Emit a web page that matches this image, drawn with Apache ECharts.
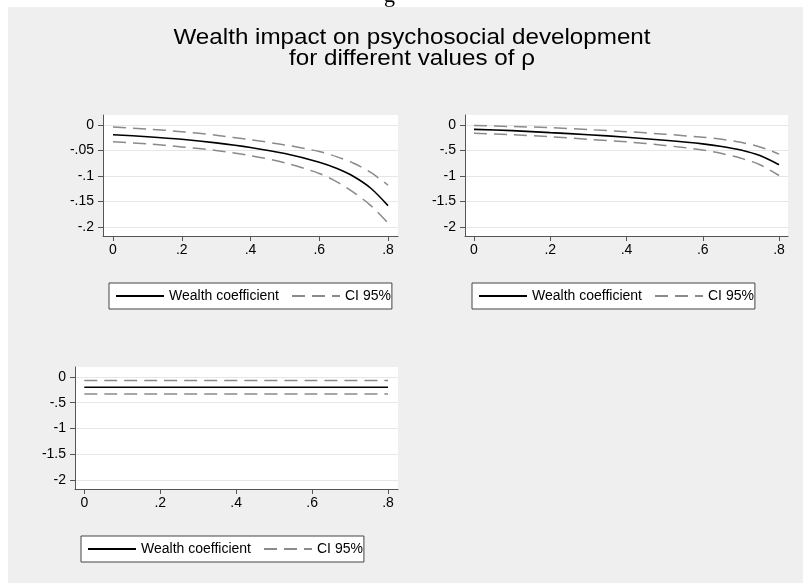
<!DOCTYPE html>
<html>
<head>
<meta charset="utf-8">
<script src="https://cdn.jsdelivr.net/npm/echarts@6/dist/echarts.min.js"></script>
<style>
	html, body { margin: 0; padding: 0; background: #fff; }
	#main { width: 803px; height: 583px; }
</style>
</head>
<body>
<div id="main"></div>
<script>
// 数据
var rhoValues = [0, 0.1, 0.2, 0.3, 0.4, 0.5, 0.6, 0.65, 0.7, 0.75, 0.8];

// 左上
var coefA = [-0.019, -0.023, -0.028, -0.035, -0.044, -0.056, -0.073, -0.085, -0.101, -0.124, -0.158];
var upperA = [-0.004, -0.008, -0.013, -0.020, -0.029, -0.039, -0.052, -0.062, -0.075, -0.093, -0.118];
var lowerA = [-0.033, -0.037, -0.043, -0.050, -0.060, -0.074, -0.095, -0.111, -0.132, -0.158, -0.192];

// 右上
var coefB = [-0.085, -0.11, -0.15, -0.19, -0.24, -0.30, -0.37, -0.42, -0.49, -0.60, -0.78];
var upperB = [-0.01, -0.03, -0.05, -0.09, -0.13, -0.18, -0.24, -0.28, -0.34, -0.43, -0.57];
var lowerB = [-0.16, -0.19, -0.23, -0.28, -0.33, -0.40, -0.49, -0.56, -0.65, -0.78, -0.99];

// 左下（水平线）
var rhoFlat = [0, 0.8];
var coefC = [-0.2, -0.2];
var upperC = [-0.07, -0.07];
var lowerC = [-0.33, -0.33];

// 刻度
var xTicks = [0, 0.2, 0.4, 0.6, 0.8];
var xTickLabels = ['0', '.2', '.4', '.6', '.8'];
var yTicksA = [0, -0.05, -0.1, -0.15, -0.2];
var yTickLabelsA = ['0', '-.05', '-.1', '-.15', '-.2'];
var yTicksB = [0, -0.5, -1, -1.5, -2];
var yTickLabelsB = ['0', '-.5', '-1', '-1.5', '-2'];

var legendNames = ['Wealth coefficient', 'CI 95%'];

var font = 'Liberation Sans, Arial, sans-serif';
var axisColor = '#555';

function pairs(xs, ys) {
	var out = [];
	for(var i = 0; i < xs.length; i++) {
		out.push([xs[i], ys[i]]);
	}
	return out;
}

function labelFor(ticks, labels) {
	return function(v) {
		for(var i = 0; i < ticks.length; i++) {
			if(Math.abs(ticks[i] - v) < 1e-9) return labels[i];
		}
		return '';
	};
}

function makeX(idx, min, max) {
	return {
		type: 'value',
		gridIndex: idx,
		min: min,
		max: max,
		axisLine: { show: true, onZero: false, lineStyle: { color: axisColor, width: 1 } },
		axisTick: { show: true, length: 5, customValues: xTicks, lineStyle: { color: axisColor } },
		axisLabel: { customValues: xTicks, formatter: labelFor(xTicks, xTickLabels), color: '#000', fontSize: 14, fontFamily: font, margin: 7 },
		splitLine: { show: false }
	};
}

function makeY(idx, min, max, ticks, labels) {
	return {
		type: 'value',
		gridIndex: idx,
		min: min,
		max: max,
		axisLine: { show: true, onZero: false, lineStyle: { color: axisColor, width: 1 } },
		axisTick: { show: true, length: 5, customValues: ticks, lineStyle: { color: axisColor } },
		axisLabel: { customValues: ticks, formatter: labelFor(ticks, labels), color: '#000', fontSize: 14, fontFamily: font, margin: 9 },
		splitLine: { show: true, lineStyle: { color: '#e6e6e6', width: 1 } }
	};
}

function makeSeries(idx, xs, coef, upper, lower) {
	var dash = { color: '#8a8a8a', width: 1.5, type: [13, 7] };
	return [{
		name: 'CI 95%', type: 'line', xAxisIndex: idx, yAxisIndex: idx,
		data: pairs(xs, upper), symbol: 'none', smooth: 0.3, lineStyle: dash, itemStyle: { color: '#8a8a8a' }
	}, {
		name: 'CI 95%', type: 'line', xAxisIndex: idx, yAxisIndex: idx,
		data: pairs(xs, lower), symbol: 'none', smooth: 0.3, lineStyle: dash, itemStyle: { color: '#8a8a8a' }
	}, {
		name: 'Wealth coefficient', type: 'line', xAxisIndex: idx, yAxisIndex: idx,
		data: pairs(xs, coef), symbol: 'none', smooth: 0.3,
		lineStyle: { color: '#000', width: 1.6 }, itemStyle: { color: '#000' }
	}];
}

function makeLegend(left, top) {
	return {
		data: legendNames,
		left: left,
		top: top,
		orient: 'horizontal',
		backgroundColor: '#fff',
		borderColor: '#444',
		borderWidth: 1,
		borderRadius: 0,
		padding: [6, 1, 6, 6],
		itemWidth: 48,
		itemHeight: 14,
		itemGap: 12,
		selectedMode: false,
		itemStyle: { opacity: 0 },
		textStyle: { color: '#000', fontSize: 14, fontFamily: font }
	};
}

var option = {
	backgroundColor: '#fff',
	animation: false,
	graphic: [
		// 灰色底板
		{ type: 'rect', left: 8, top: 7, z: -10, shape: { width: 795, height: 576 }, style: { fill: '#efefef' } },
		// 上方被截掉的文字
		{ type: 'text', x: 384, y: 7, style: { text: 'g', font: '22px Liberation Serif, serif', fill: '#000', verticalAlign: 'bottom' } },
		// 标题
		{ type: 'text', x: 412, y: 38, scaleX: 1.1, style: { text: 'Wealth impact on psychosocial development', font: '22px ' + font, fill: '#000', align: 'center', verticalAlign: 'middle' } },
		{ type: 'text', x: 412, y: 59, scaleX: 1.1, style: { text: 'for different values of \u03c1', font: '22px ' + font, fill: '#000', align: 'center', verticalAlign: 'middle' } }
	],
	grid: [
		{ left: 103, top: 115, width: 295, height: 121, show: true, backgroundColor: '#fff', borderWidth: 0 },
		{ left: 465, top: 115, width: 323, height: 121, show: true, backgroundColor: '#fff', borderWidth: 0 },
		{ left: 75, top: 367, width: 323, height: 122, show: true, backgroundColor: '#fff', borderWidth: 0 }
	],
	xAxis: [
		makeX(0, -0.0291, 0.8291),
		makeX(1, -0.0236, 0.8236),
		makeX(2, -0.0245, 0.8263)
	],
	yAxis: [
		makeY(0, -0.2176, 0.0196, yTicksA, yTickLabelsA),
		makeY(1, -2.176, 0.196, yTicksB, yTickLabelsB),
		makeY(2, -2.175, 0.194, yTicksB, yTickLabelsB)
	],
	legend: [
		makeLegend(109, 283),
		makeLegend(472, 283),
		makeLegend(81, 536)
	],
	series: [].concat(
		makeSeries(0, rhoValues, coefA, upperA, lowerA),
		makeSeries(1, rhoValues, coefB, upperB, lowerB),
		makeSeries(2, rhoFlat, coefC, upperC, lowerC)
	)
};

var myChart = echarts.init(document.getElementById('main'));
myChart.setOption(option);
window.onresize = function() {
	myChart.resize();
};
</script>
</body>
</html>
